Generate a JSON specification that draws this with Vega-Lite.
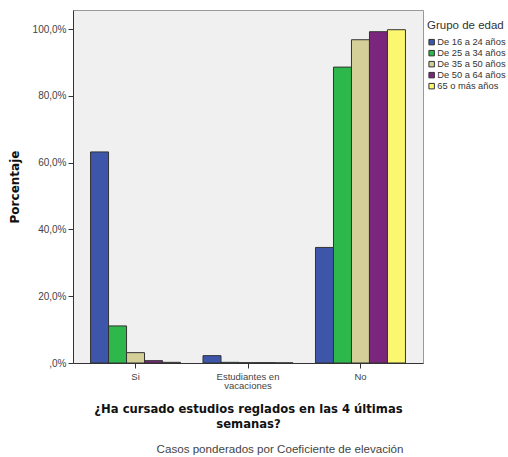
{
  "$schema": "https://vega.github.io/schema/vega-lite/v6.json",
  "width": 350,
  "height": 353,
  "autosize": {"type": "none"},
  "padding": {"left": 73, "top": 10, "right": 85, "bottom": 94},
  "background": "white",
  "data": {
    "values": [
      {"respuesta": "Si", "grupo": "De 16 a 24 años", "pct": 63.2},
      {"respuesta": "Si", "grupo": "De 25 a 34 años", "pct": 11.1},
      {"respuesta": "Si", "grupo": "De 35 a 50 años", "pct": 3.1},
      {"respuesta": "Si", "grupo": "De 50 a 64 años", "pct": 0.7},
      {"respuesta": "Si", "grupo": "65 o más años", "pct": 0.2},
      {"respuesta": "Estudiantes en vacaciones", "grupo": "De 16 a 24 años", "pct": 2.2},
      {"respuesta": "Estudiantes en vacaciones", "grupo": "De 25 a 34 años", "pct": 0.2},
      {"respuesta": "Estudiantes en vacaciones", "grupo": "De 35 a 50 años", "pct": 0.1},
      {"respuesta": "Estudiantes en vacaciones", "grupo": "De 50 a 64 años", "pct": 0.1},
      {"respuesta": "Estudiantes en vacaciones", "grupo": "65 o más años", "pct": 0.05},
      {"respuesta": "No", "grupo": "De 16 a 24 años", "pct": 34.6},
      {"respuesta": "No", "grupo": "De 25 a 34 años", "pct": 88.6},
      {"respuesta": "No", "grupo": "De 35 a 50 años", "pct": 96.8},
      {"respuesta": "No", "grupo": "De 50 a 64 años", "pct": 99.2},
      {"respuesta": "No", "grupo": "65 o más años", "pct": 99.8}
    ]
  },
  "title": {
    "text": "Casos ponderados por Coeficiente de elevación",
    "orient": "bottom",
    "anchor": "middle",
    "dx": 32,
    "offset": 14,
    "font": "Liberation Sans",
    "fontSize": 11.6,
    "fontWeight": "normal",
    "color": "#444444"
  },
  "mark": {"type": "bar", "stroke": "#333333", "strokeWidth": 1},
  "encoding": {
    "x": {
      "field": "respuesta",
      "type": "nominal",
      "sort": ["Si", "Estudiantes en vacaciones", "No"],
      "scale": {"paddingInner": 0.2, "paddingOuter": 0.156},
      "axis": {
        "title": ["¿Ha cursado estudios reglados en las 4 últimas", "semanas?"],
        "titleFont": "DejaVu Sans",
        "titleFontSize": 11.6,
        "titleFontWeight": "bold",
        "titleColor": "#111111",
        "titleLineHeight": 15,
        "titlePadding": 13,
        "labelAngle": 0,
        "labelFont": "Liberation Sans",
        "labelFontSize": 9.5,
        "labelColor": "#444444",
        "labelLineHeight": 9.5,
        "labelPadding": 3,
        "labelExpr": "datum.value == 'Estudiantes en vacaciones' ? ['Estudiantes en', 'vacaciones'] : datum.label",
        "tickSize": 5,
        "tickColor": "#333333",
        "domainColor": "#333333"
      }
    },
    "xOffset": {
      "field": "grupo",
      "type": "nominal",
      "sort": ["De 16 a 24 años", "De 25 a 34 años", "De 35 a 50 años", "De 50 a 64 años", "65 o más años"],
      "scale": {"paddingInner": 0, "paddingOuter": 0}
    },
    "y": {
      "field": "pct",
      "type": "quantitative",
      "scale": {"domain": [0, 105.7], "nice": false},
      "axis": {
        "title": "Porcentaje",
        "titleFont": "DejaVu Sans",
        "titleFontSize": 12,
        "titleFontWeight": "bold",
        "titleColor": "#111111",
        "titlePadding": 11,
        "values": [0, 20, 40, 60, 80, 100],
        "labelExpr": "datum.value == 0 ? ',0%' : replace(format(datum.value, '.1f'), '.', ',') + '%'",
        "labelFont": "Liberation Sans",
        "labelFontSize": 10,
        "labelColor": "#444444",
        "labelPadding": 2,
        "tickSize": 5,
        "tickColor": "#333333",
        "domainColor": "#333333",
        "grid": false
      }
    },
    "fill": {
      "field": "grupo",
      "type": "nominal",
      "sort": ["De 16 a 24 años", "De 25 a 34 años", "De 35 a 50 años", "De 50 a 64 años", "65 o más años"],
      "scale": {
        "domain": ["De 16 a 24 años", "De 25 a 34 años", "De 35 a 50 años", "De 50 a 64 años", "65 o más años"],
        "range": ["#3d56a9", "#2eb84b", "#d4cf98", "#7b267d", "#fcf770"]
      },
      "legend": {
        "title": "Grupo de edad",
        "orient": "none",
        "legendX": 354,
        "legendY": 10,
        "titleFont": "Liberation Sans",
        "titleFontSize": 11.5,
        "titleFontWeight": "normal",
        "titleColor": "#333333",
        "titlePadding": 6,
        "labelFont": "Liberation Sans",
        "labelFontSize": 9.3,
        "labelColor": "#333333",
        "labelOffset": 1,
        "labelLimit": 80,
        "symbolType": "square",
        "symbolSize": 30,
        "symbolStrokeColor": "#333333",
        "symbolStrokeWidth": 1,
        "rowPadding": 0
      }
    }
  },
  "config": {
    "view": {"fill": "#f0f0f0", "stroke": "#999999", "strokeWidth": 1}
  }
}
